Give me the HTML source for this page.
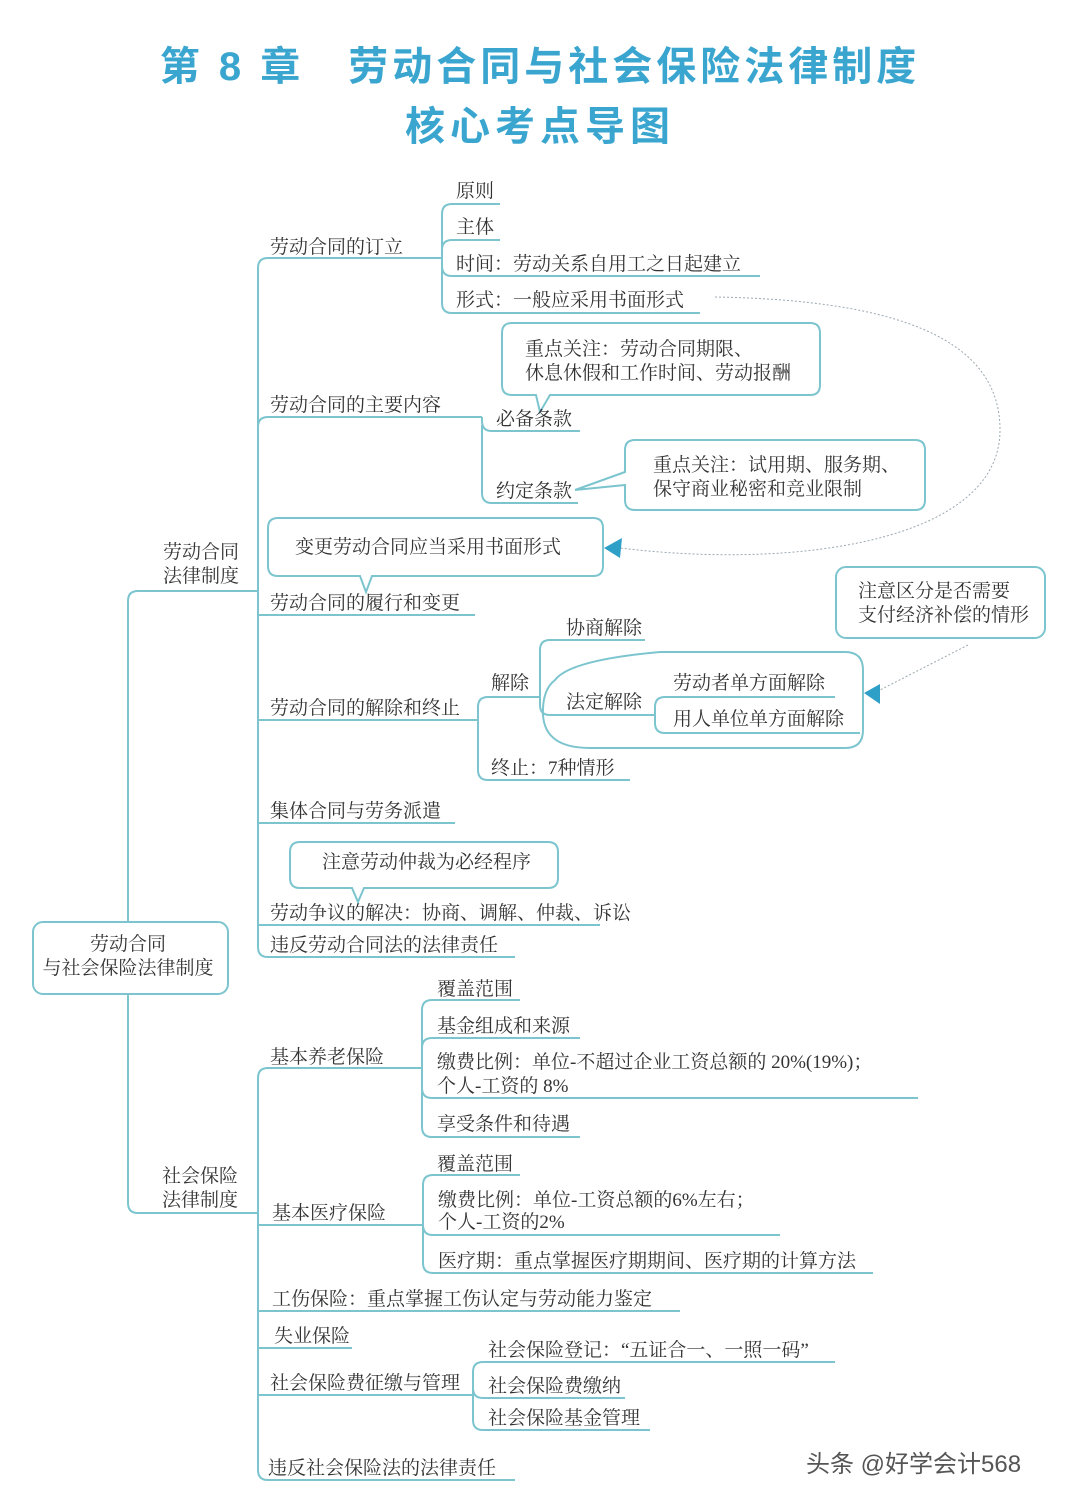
<!DOCTYPE html>
<html><head><meta charset="utf-8"><style>
html,body{margin:0;padding:0;background:#fff;width:1080px;height:1500px;overflow:hidden}
svg{display:block}
text{font-family:"Liberation Serif","Noto Serif CJK SC",serif;font-size:19px;fill:#333}
.t{font-family:"Liberation Sans","Noto Sans CJK SC",sans-serif;fill:#3aa6cf;font-size:40px;font-weight:bold}
</style></head><body>
<svg width="1080" height="1500" viewBox="0 0 1080 1500">
<text class="t" x="540" y="80" text-anchor="middle" letter-spacing="4">第 8 章　劳动合同与社会保险法律制度</text>
<text class="t" x="540" y="140" text-anchor="middle" letter-spacing="5">核心考点导图</text>

<g fill="none" stroke="#7cc5cf" stroke-width="2">
<rect x="33" y="922" width="195" height="72" rx="10"/>
<path d="M128 922 V601 Q128 591 138 591 H258"/>
<path d="M128 994 V1203 Q128 1213 138 1213 H258"/>
<path d="M258 268 Q258 258 268 258 H440"/>
<path d="M258 268 V947 Q258 957 268 957 H515"/>
<path d="M258 427 Q258 417 268 417 H482"/>
<path d="M258 615 H475"/>
<path d="M258 720 H478"/>
<path d="M258 823 H455"/>
<path d="M258 925 H600"/>
<path d="M440 258 H442 V214 Q442 204 452 204 H500"/>
<path d="M442 250 Q442 240 452 240 H500"/>
<path d="M442 266 Q442 276 452 276 H760"/>
<path d="M442 258 V303 Q442 313 452 313 H700"/>
<path d="M482 417 V421 Q482 431 492 431 H580"/>
<path d="M482 425 V493 Q482 503 492 503 H578"/>
<path d="M512 323 H810 Q820 323 820 333 V385 Q820 395 810 395 H550 L540 412 L536 395 H512 Q502 395 502 385 V333 Q502 323 512 323Z"/>
<path d="M635 440 H915 Q925 440 925 450 V500 Q925 510 915 510 H635 Q625 510 625 500 V485 L575 490 L625 472 V450 Q625 440 635 440Z"/>
<path d="M278 518 H593 Q603 518 603 528 V566 Q603 576 593 576 H372 L366 592 L360 576 H278 Q268 576 268 566 V528 Q268 518 278 518Z"/>
<path d="M300 842 H548 Q558 842 558 852 V878 Q558 888 548 888 H364 L358 902 L352 888 H300 Q290 888 290 878 V852 Q290 842 300 842Z"/>
<rect x="836" y="567" width="209" height="71" rx="10"/>
<path d="M478 720 V707 Q478 697 488 697 H540"/>
<path d="M478 720 V770 Q478 780 488 780 H630"/>
<path d="M540 697 V650 Q540 640 550 640 H645"/>
<path d="M540 697 V705 Q540 715 550 715 H655"/>
<path d="M655 715 V707 Q655 697 665 697 H835"/>
<path d="M655 715 V723 Q655 733 665 733 H860"/>
<path d="M555 680 Q570 660 660 652 H845 Q863 652 863 670 V730 Q863 748 845 748 H590 Q545 748 543 715 Q542 690 555 680Z"/>
<path d="M258 1213 V1470 Q258 1480 268 1480 H515"/>
<path d="M258 1213 V1078 Q258 1068 268 1068 H422"/>
<path d="M258 1225 H423"/>
<path d="M258 1311 H680"/>
<path d="M258 1348 H352"/>
<path d="M258 1395 H473"/>
<path d="M422 1068 V1010 Q422 1000 432 1000 H520"/>
<path d="M422 1058 V1048 Q422 1038 432 1038 H580"/>
<path d="M422 1068 V1088 Q422 1098 432 1098 H918"/>
<path d="M422 1068 V1127 Q422 1137 432 1137 H580"/>
<path d="M423 1225 V1185 Q423 1175 433 1175 H520"/>
<path d="M423 1225 V1225 Q423 1235 433 1235 H780"/>
<path d="M423 1225 V1263 Q423 1273 433 1273 H873"/>
<path d="M473 1395 V1372 Q473 1362 483 1362 H835"/>
<path d="M473 1388 Q473 1398 483 1398 H625"/>
<path d="M473 1395 V1420 Q473 1430 483 1430 H650"/>
</g>
<g fill="none" stroke="#9aa8b0" stroke-width="1" stroke-dasharray="2,2">
<path d="M715 297 C900 300 1000 340 1000 430 C1000 540 800 570 620 548"/>
<path d="M968 645 L880 690"/>
</g>
<polygon points="604,548 622,538 620,558" fill="#2ea0c8"/>
<polygon points="864,693 880,684 880,704" fill="#2ea0c8"/>

<text x="456" y="197">原则</text>
<text x="456" y="233">主体</text>
<text x="456" y="270">时间：劳动关系自用工之日起建立</text>
<text x="456" y="306">形式：一般应采用书面形式</text>
<text x="270" y="253">劳动合同的订立</text>
<text x="525" y="355">重点关注：劳动合同期限、</text>
<text x="525" y="379">休息休假和工作时间、劳动报酬</text>
<text x="270" y="411">劳动合同的主要内容</text>
<text x="496" y="425">必备条款</text>
<text x="653" y="471">重点关注：试用期、服务期、</text>
<text x="653" y="495">保守商业秘密和竞业限制</text>
<text x="496" y="497">约定条款</text>
<text x="295" y="553">变更劳动合同应当采用书面形式</text>
<text x="163" y="558">劳动合同</text>
<text x="163" y="582">法律制度</text>
<text x="270" y="609">劳动合同的履行和变更</text>
<text x="858" y="597">注意区分是否需要</text>
<text x="858" y="621">支付经济补偿的情形</text>
<text x="566" y="634">协商解除</text>
<text x="491" y="689">解除</text>
<text x="566" y="708">法定解除</text>
<text x="673" y="689">劳动者单方面解除</text>
<text x="673" y="725">用人单位单方面解除</text>
<text x="270" y="714">劳动合同的解除和终止</text>
<text x="491" y="774">终止：7种情形</text>
<text x="270" y="817">集体合同与劳务派遣</text>
<text x="322" y="868">注意劳动仲裁为必经程序</text>
<text x="270" y="919">劳动争议的解决：协商、调解、仲裁、诉讼</text>
<text x="270" y="951">违反劳动合同法的法律责任</text>
<text x="128" y="950" text-anchor="middle">劳动合同</text>
<text x="128" y="974" text-anchor="middle">与社会保险法律制度</text>
<text x="437" y="995">覆盖范围</text>
<text x="437" y="1032">基金组成和来源</text>
<text x="270" y="1063">基本养老保险</text>
<text x="437" y="1068">缴费比例：单位-不超过企业工资总额的 20%(19%)；</text>
<text x="437" y="1092">个人-工资的 8%</text>
<text x="437" y="1130">享受条件和待遇</text>
<text x="437" y="1170">覆盖范围</text>
<text x="162" y="1182">社会保险</text>
<text x="162" y="1206">法律制度</text>
<text x="438" y="1206">缴费比例：单位-工资总额的6%左右；</text>
<text x="438" y="1228">个人-工资的2%</text>
<text x="272" y="1219">基本医疗保险</text>
<text x="438" y="1267">医疗期：重点掌握医疗期期间、医疗期的计算方法</text>
<text x="272" y="1305">工伤保险：重点掌握工伤认定与劳动能力鉴定</text>
<text x="274" y="1342">失业保险</text>
<text x="488" y="1356">社会保险登记：“五证合一、一照一码”</text>
<text x="270" y="1389">社会保险费征缴与管理</text>
<text x="488" y="1392">社会保险费缴纳</text>
<text x="488" y="1424">社会保险基金管理</text>
<text x="268" y="1474">违反社会保险法的法律责任</text>
<text x="806" y="1472" style="font-family:'Liberation Sans','Noto Sans CJK SC',sans-serif;font-size:24px;fill:#555">头条 @好学会计568</text>
</svg>
</body></html>
